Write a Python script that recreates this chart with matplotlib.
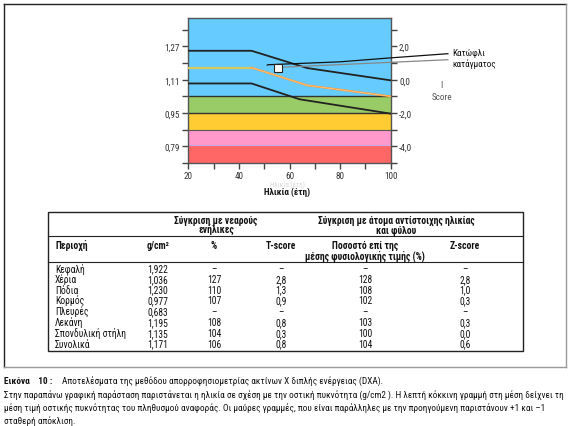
import numpy as np
import matplotlib.pyplot as plt
from matplotlib import font_manager
from matplotlib.lines import Line2D
from matplotlib.patches import Rectangle

# pick a narrow sans if one is installed, else Liberation Sans
avail = {f.name for f in font_manager.fontManager.ttflist}
narrow = [n for n in ['Liberation Sans Narrow', 'Roboto Condensed', 'Arial Narrow'] if n in avail]
base_font = narrow[0] if narrow else 'Liberation Sans'
plt.rcParams['font.family'] = [base_font, 'DejaVu Sans']

W, H = 572, 427

# --- chart data ---
bmd_ticks = [0.79, 0.95, 1.11, 1.27]
bmd_labels = ['0,79', '0,95', '1,11', '1,27']
t_ticks = [-4, -2, 0, 2]
t_labels = ['-4,0', '-2,0', '0,0', '2,0']
age_ticks = [20, 40, 60, 80, 100]

band_edges = [0.71, 0.79, 0.87, 0.95, 1.03, 1.405]
band_colors = ['#ff6666', '#ff99cc', '#ffcc33', '#99cc66', '#66ccff']

age_upper = [20, 45, 67, 100]
bmd_upper = [1.249, 1.249, 1.166, 1.107]
age_mean = [20, 45, 67, 100]
bmd_mean = [1.168, 1.168, 1.083, 1.030]
age_lower = [20, 45, 64, 100]
bmd_lower = [1.092, 1.092, 1.016, 0.947]

patient_age = 55.3
patient_bmd = 1.166

# T-score = (bmd - ref) / sd
ref_bmd = 1.11
sd_bmd = 0.08

# --- table data ---
regions = ['Κεφαλή', 'Χέρια', 'Πόδια', 'Κορμός', 'Πλευρές', 'Λεκάνη',
           'Σπονδυλική στήλη', 'Συνολικά']
bmd_region = [1.922, 1.036, 1.230, 0.977, 0.683, 1.195, 1.135, 1.171]
pct_young = [None, 127, 110, 107, None, 108, 104, 106]
t_score = [None, 2.8, 1.3, 0.9, None, 0.8, 0.3, 0.8]
pct_age = [None, 128, 108, 102, None, 103, 100, 104]
z_score = [None, 2.8, 1.0, 0.3, None, 0.3, 0.0, 0.6]

caption_title = 'Εικόνα    10 :'
caption_lines = [
    'Αποτελέσματα της μεθόδου απορροφησιομετρίας ακτίνων Χ διπλής ενέργειας (DXA).',
    'Στην παραπάνω γραφική παράσταση παριστάνεται η ηλικία σε σχέση με την οστική πυκνότητα (g/cm2 ). Η λεπτή κόκκινη γραμμή στη μέση δείχνει τη',
    'μέση τιμή οστικής πυκνότητας του πληθυσμού αναφοράς. Οι μαύρες γραμμές, που είναι παράλληλες με την προηγούμενη παριστάνουν +1 και –1',
    'σταθερή απόκλιση.',
]


def px(x, y):
    # pixel position (from top-left) -> figure fraction
    return x / W, 1 - y / H


def fmt(v, nd):
    if v is None:
        return '–'
    return f'{v:.{nd}f}'.replace('.', ',')


fig = plt.figure(figsize=(W / 100, H / 100), dpi=100)
fig.patch.set_facecolor('white')
renderer = fig.canvas.get_renderer()


def fit(s, target, size0=7.0, **kw):
    # font size that makes string s about target pixels wide
    t = fig.text(0, 0, s, fontsize=size0, **kw)
    w = t.get_window_extent(renderer).width
    t.remove()
    return size0 * target / w


tick_fs = min(fit('1,27', 15.5), 7.2)
tfs = min(fit('Σπονδυλική στήλη', 72), 7.2)
cfs = min(fit(caption_lines[1], 560), 7.2)

# outer frame
fl = dict(transform=fig.transFigure, lw=1.0)
fig.add_artist(Line2D([4 / W, 566 / W], [1 - 5 / H, 1 - 5 / H], color='#222222', **fl))
fig.add_artist(Line2D([4 / W, 4 / W], [1 - 5 / H, 1 - 368 / H], color='#222222', **fl))
fig.add_artist(Line2D([566 / W, 566 / W], [1 - 5 / H, 1 - 368 / H], color='#999999', **fl))
fig.add_artist(Line2D([4 / W, 566 / W], [1 - 368 / H, 1 - 368 / H], color='#999999', **fl))

# --- chart ---
ax = fig.add_axes([188.3 / W, 1 - 164 / H, 202.4 / W, 144.7 / H])
ymin, ymax = band_edges[0], band_edges[-1]
for lo, hi, c in zip(band_edges[:-1], band_edges[1:], band_colors):
    ax.axhspan(lo, hi, color=c, lw=0, zorder=0)
ax.axhline(1.03, color='#333333', lw=1.0, zorder=1)
ax.axhline(0.95, color='#333333', lw=1.0, zorder=1)
ax.axhline(0.87, color='#555555', lw=0.8, zorder=1)
ax.axhline(0.797, color='#c8a8e8', lw=0.8, zorder=1)

ax.plot(age_upper, bmd_upper, color='#222222', lw=1.3, zorder=3)
ax.plot(age_lower, bmd_lower, color='#222222', lw=1.3, zorder=3)
ax.plot(age_mean[:2], bmd_mean[:2], color='#d8c860', lw=1.6, zorder=3)
ax.plot(age_mean[1:], bmd_mean[1:], color='#ff9933', lw=1.4, zorder=3)
ax.plot(age_mean[1:], bmd_mean[1:], color='#ffd9a0', lw=0.4, zorder=3)

ax.set_xlim(20, 100)
ax.set_ylim(ymin, ymax)
ax.set_xticks(np.arange(20, 101, 10))
ax.set_xticklabels([str(a) if a in age_ticks else '' for a in range(20, 101, 10)])
yt = np.round(np.arange(0.71, 1.40, 0.08), 2)
ax.set_yticks(yt)
ax.set_yticklabels([bmd_labels[bmd_ticks.index(v)] if v in bmd_ticks else '' for v in yt])
ax.tick_params(direction='out', length=4, width=1, color='#444444',
               labelcolor='#333333', labelsize=tick_fs, pad=2)
for s in ax.spines.values():
    s.set_color('#555555')
    s.set_linewidth(1.0)

ax2 = ax.twinx()
ax2.set_ylim((ymin - ref_bmd) / sd_bmd, (ymax - ref_bmd) / sd_bmd)
tt = np.arange(-5, 4, 1)
ax2.set_yticks(tt)
ax2.set_yticklabels([t_labels[t_ticks.index(v)] if v in t_ticks else '' for v in tt])
ax2.tick_params(direction='out', length=4, width=1, color='#444444',
                labelcolor='#333333', labelsize=tick_fs, pad=2)
for s in ax2.spines.values():
    s.set_visible(False)

# patient marker and threshold leaders
ax.plot([patient_age], [patient_bmd], marker='s', ms=5.5, mfc='white',
        mec='#222222', mew=0.8, zorder=5, clip_on=False)
ax.plot([51.2, 51.6, 80, 100, 122.6], [1.180, 1.182, 1.196, 1.215, 1.235],
        color='#111111', lw=0.9, zorder=4, clip_on=False)
ax.plot([patient_age, 122.6], [patient_bmd + 0.003, 1.206],
        color='#888888', lw=0.9, zorder=4, clip_on=False)

fig.text(*px(452, 59), 'Κατώφλι\nκατάγματος', fontsize=tick_fs, ha='left', va='center',
         color='#111111', linespacing=1.15)
fig.text(*px(441.7, 85), 'I', fontsize=tick_fs, ha='center', va='center', color='#555555')
fig.text(*px(441.7, 97.5), 'Score', fontsize=tick_fs, ha='center', va='center', color='#555555')

fig.text(*px(288, 184.5), 'Ηλικία (έτη)', fontsize=5, ha='center', va='center', color='#d6d6d6')
fig.text(*px(287, 192.5), 'Ηλικία (έτη)', fontsize=tick_fs, ha='center', va='center',
         color='#111111', fontweight='bold')

# --- table ---
fig.add_artist(Rectangle((47.5 / W, 1 - 352 / H), 475 / W, 139 / H, transform=fig.transFigure,
                         fill=False, ec='#222222', lw=1.0))
fig.add_artist(Line2D([47.5 / W, 522.5 / W], [1 - 237 / H, 1 - 237 / H],
                      transform=fig.transFigure, color='#222222', lw=0.8))
fig.add_artist(Line2D([47.5 / W, 522.5 / W], [1 - 263 / H, 1 - 263 / H],
                      transform=fig.transFigure, color='#222222', lw=0.8))

bl = 2.6  # center -> baseline offset, pixels
hdr = dict(fontsize=tfs, ha='center', va='baseline', color='#111111', fontweight='bold')
fig.text(*px(216, 221 + bl), 'Σύγκριση με νεαρούς', **hdr)
fig.text(*px(216, 230.5 + bl), 'ενήλικες', **hdr)
fig.text(*px(396, 221 + bl), 'Σύγκριση με άτομα αντίστοιχης ηλικίας', **hdr)
fig.text(*px(396, 230.5 + bl), 'και φύλου', **hdr)

col_x = [55, 158, 214, 281, 365, 465]
fig.text(*px(col_x[0], 246 + bl), 'Περιοχή', fontsize=tfs, ha='left', va='baseline',
         color='#111111', fontweight='bold')
fig.text(*px(col_x[1], 246 + bl), 'g/cm²', **hdr)
fig.text(*px(col_x[2], 246 + bl), '%', **hdr)
fig.text(*px(col_x[3], 246 + bl), 'T-score', **hdr)
fig.text(*px(col_x[4], 246 + bl), 'Ποσοστό επί της', **hdr)
fig.text(*px(col_x[4], 256.5 + bl), 'μέσης φυσιολογικής τιμής (%)', **hdr)
fig.text(*px(col_x[5], 246 + bl), 'Z-score', **hdr)

cell = dict(fontsize=tfs, ha='center', va='baseline', color='#111111')
for i, name in enumerate(regions):
    y = 269.5 + i * 10.8 + bl
    fig.text(*px(col_x[0], y), name, fontsize=tfs, ha='left', va='baseline', color='#111111')
    fig.text(*px(col_x[1], y), fmt(bmd_region[i], 3), **cell)
    fig.text(*px(col_x[2], y), fmt(pct_young[i], 0), **cell)
    fig.text(*px(col_x[3], y), fmt(t_score[i], 1), **cell)
    fig.text(*px(col_x[4], y), fmt(pct_age[i], 0), **cell)
    fig.text(*px(col_x[5], y), fmt(z_score[i], 1), **cell)

# --- caption ---
fig.text(*px(4, 381 + bl), caption_title, fontsize=cfs, ha='left', va='baseline',
         color='#111111', fontweight='bold')
fig.text(*px(62, 381 + bl), caption_lines[0], fontsize=cfs, ha='left', va='baseline',
         color='#111111')
for i, line in enumerate(caption_lines[1:]):
    fig.text(*px(4, 395 + i * 13.3 + bl), line, fontsize=cfs, ha='left', va='baseline',
             color='#111111')

fig.savefig('out.png', dpi=100)
